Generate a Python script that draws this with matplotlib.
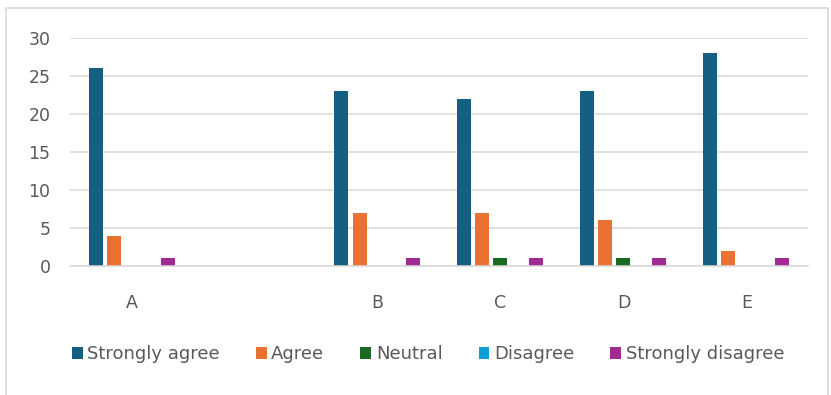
import numpy as np
import matplotlib
matplotlib.use("Agg")
import matplotlib.pyplot as plt

categories = ["A", "", "B", "C", "D", "E"]
series_names = ["Strongly agree", "Agree", "Neutral", "Disagree", "Strongly disagree"]
strongly_agree = [26, np.nan, 23, 22, 23, 28]
agree = [4, np.nan, 7, 7, 6, 2]
neutral = [0, np.nan, 0, 1, 1, 0]
disagree = [0, np.nan, 0, 0, 0, 0]
strongly_disagree = [1, np.nan, 1, 1, 1, 1]
y_ticks = [0, 5, 10, 15, 20, 25, 30]

series_values = [strongly_agree, agree, neutral, disagree, strongly_disagree]
colors = ["#156082", "#E97132", "#196B24", "#0F9ED5", "#A02B93"]

plt.rcParams["font.family"] = ["DejaVu Sans"]
text_color = "#595959"

fig = plt.figure(figsize=(8.31, 3.95), dpi=100)
fig.patch.set_facecolor("white")
ax = fig.add_axes([70 / 831, 1 - 266 / 395, 738 / 831, 228 / 395])

x = np.arange(len(categories))
step = 18 / 123
width = 14 / 123
for i, (vals, col, name) in enumerate(zip(series_values, colors, series_names)):
    offset = (i - 2) * step
    ax.bar(x + offset, vals, width=width, color=col, label=name, zorder=3)

ax.set_xlim(-0.5, len(categories) - 0.5)
ax.set_ylim(0, 30)
ax.set_yticks(y_ticks)
ax.set_yticklabels([str(t) for t in y_ticks], fontsize=12.5, color=text_color)
ax.set_xticks(x)
ax.set_xticklabels(categories, fontsize=12.5, color=text_color)
ax.tick_params(axis="both", length=0)
ax.tick_params(axis="x", pad=20)
ax.tick_params(axis="y", pad=14)
ax.grid(axis="y", color="#d9d9d9", linewidth=1.1, zorder=0)
for side in ["top", "right", "left"]:
    ax.spines[side].set_visible(False)
ax.spines["bottom"].set_color("#d9d9d9")
ax.spines["bottom"].set_linewidth(1.1)
ax.spines["bottom"].set_zorder(4)

leg = fig.legend(loc="center", bbox_to_anchor=(428 / 831, 1 - 354 / 395), ncol=5,
                 frameon=False, fontsize=13, handlelength=0.6, handleheight=0.65,
                 handletextpad=0.25, columnspacing=2.0)
for t in leg.get_texts():
    t.set_color(text_color)

# Outer chart border
fig.add_artist(plt.Rectangle((6 / 831, -0.05), 822 / 831, 1 - 8 / 395 + 0.05,
                             transform=fig.transFigure, fill=False,
                             edgecolor="#d9d9d9", linewidth=1.2))

fig.savefig("out.png", dpi=100, facecolor="white")
